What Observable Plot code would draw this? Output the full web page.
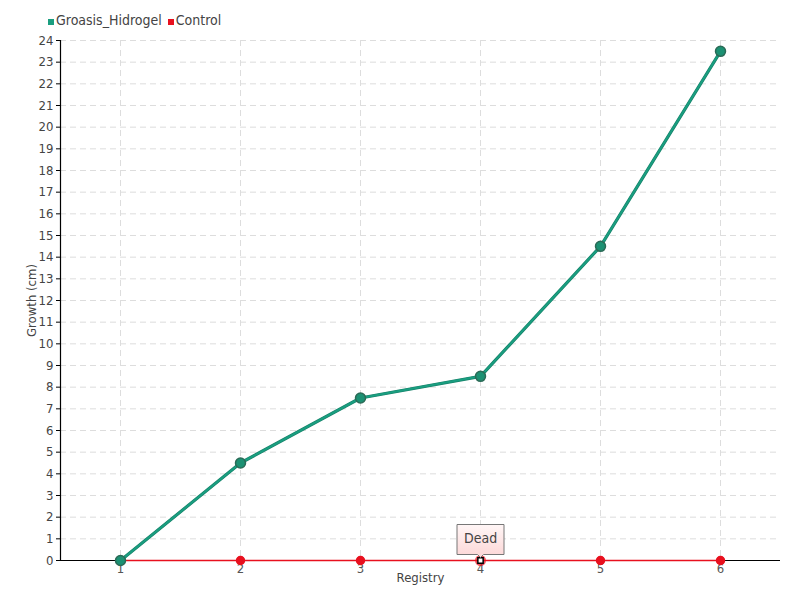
<!DOCTYPE html>
<html>
<head>
<meta charset="utf-8">
<script src="https://cdn.jsdelivr.net/npm/d3@7"></script>
<script src="https://cdn.jsdelivr.net/npm/@observablehq/plot@0.6"></script>
<style>
  body { margin: 0; background: #fff; font-family: "DejaVu Sans Condensed", "DejaVu Sans", sans-serif; }
  #wrap { position: relative; width: 800px; height: 600px; }
  #legend { position: absolute; left: 48px; top: 12px; font-size: 14px; color: #444; display: flex; gap: 6px; align-items: center; }
  #legend .sw { display: inline-block; width: 6px; height: 6px; margin-right: 2px; }
</style>
</head>
<body>
<div id="wrap">
  <div id="legend"></div>
  <div id="chart"></div>
</div>
<script>
const registry = [1, 2, 3, 4, 5, 6];
const groasis = [0, 4.5, 7.5, 8.5, 14.5, 23.5];
const control = [0, 0, 0, 0, 0, 0];
const seriesNames = ["Groasis_Hidrogel", "Control"];
const seriesColors = ["#1a9e80", "#e8101e"];
const notes = [{x: 4, y: 0, label: "Dead"}];
const yTicks = d3.range(0, 25);

const rowsG = registry.map((x, i) => ({x, y: groasis[i]}));
const rowsC = registry.map((x, i) => ({x, y: control[i], dead: notes.some(n => n.x === x)}));

const legend = document.getElementById("legend");
seriesNames.forEach((n, i) => {
  const s = document.createElement("span");
  s.innerHTML = `<span class="sw" style="background:${seriesColors[i]}"></span>${n}`;
  legend.appendChild(s);
});

const chart = Plot.plot({
  width: 800,
  height: 600,
  marginLeft: 60,
  marginRight: 20,
  marginTop: 40,
  marginBottom: 40,
  style: {fontFamily: '"DejaVu Sans Condensed", "DejaVu Sans", sans-serif', fontSize: "13px", color: "#444", background: "transparent"},
  x: {domain: [0.5, 6.5], ticks: registry, label: null, tickFormat: d => String(d)},
  y: {domain: [0, 24], ticks: yTicks, label: null},
  marks: [
    Plot.gridY(yTicks, {stroke: "#ddd", strokeOpacity: 1, strokeDasharray: "6,4"}),
    Plot.gridX(registry, {stroke: "#ddd", strokeOpacity: 1, strokeDasharray: "6,4"}),
    Plot.axisY(yTicks, {tickSize: 4, tickPadding: 3, anchor: "left", stroke: "#000", fill: "#444", fontSize: 13}),
    Plot.axisX(registry, {tickSize: 3, tickPadding: 0, stroke: "#bbb", fill: "#555", fontSize: 13, tickFormat: d => String(d)}),
    Plot.ruleX([0.5], {stroke: "#000", strokeWidth: 1.2}),
    Plot.ruleY([0], {stroke: "#000", strokeWidth: 1.2}),
    Plot.line(rowsC, {x: "x", y: "y", stroke: seriesColors[1], strokeWidth: 1.5}),
    Plot.line(rowsG, {x: "x", y: "y", stroke: "#168068", strokeWidth: 3.2}),
    Plot.line(rowsG, {x: "x", y: "y", stroke: seriesColors[0], strokeWidth: 2}),
    Plot.dot(rowsC.filter(d => !d.dead), {x: "x", y: "y", r: 4, fill: seriesColors[1], stroke: "#e8101e"}),
    Plot.dot(rowsC.filter(d => d.dead), {x: "x", y: "y", r: 4.5, fill: "none", stroke: seriesColors[1], strokeOpacity: 0.7, strokeWidth: 2}),
    Plot.dot(rowsC.filter(d => d.dead), {x: "x", y: "y", r: 3, symbol: "square", fill: "#fff", stroke: "#000", strokeWidth: 1.5}),
    Plot.dot(rowsG, {x: "x", y: "y", r: 5, fill: "#1c9173", stroke: "#2b6b57", strokeWidth: 1.5}),
    Plot.tip(notes, {x: "x", y: "y", title: "label", anchor: "bottom", dy: -3, pointerSize: 6, textPadding: 7, fontSize: 14, fill: "url(#tipgrad)", stroke: "#777"}),
    Plot.text(["Registry"], {frameAnchor: "bottom", dy: 21, fill: "#444", fontSize: 13}),
    Plot.text(["Growth (cm)"], {frameAnchor: "left", textAnchor: "middle", dx: -29, rotate: -90, fill: "#444", fontSize: 13})
  ]
});

const defs = d3.select(chart).insert("defs", ":first-child");
const g = defs.append("linearGradient").attr("id", "tipgrad").attr("x1", 0).attr("y1", 0).attr("x2", 0).attr("y2", 1);
g.append("stop").attr("offset", "0%").attr("stop-color", "#fff6f6");
g.append("stop").attr("offset", "100%").attr("stop-color", "#fcd6d6");
d3.select(chart).selectAll("[aria-label=tip] path").style("filter", "none");
d3.select(chart).selectAll("g[aria-label=tip]").style("filter", "none");

document.getElementById("chart").appendChild(chart);
</script>
</body>
</html>
